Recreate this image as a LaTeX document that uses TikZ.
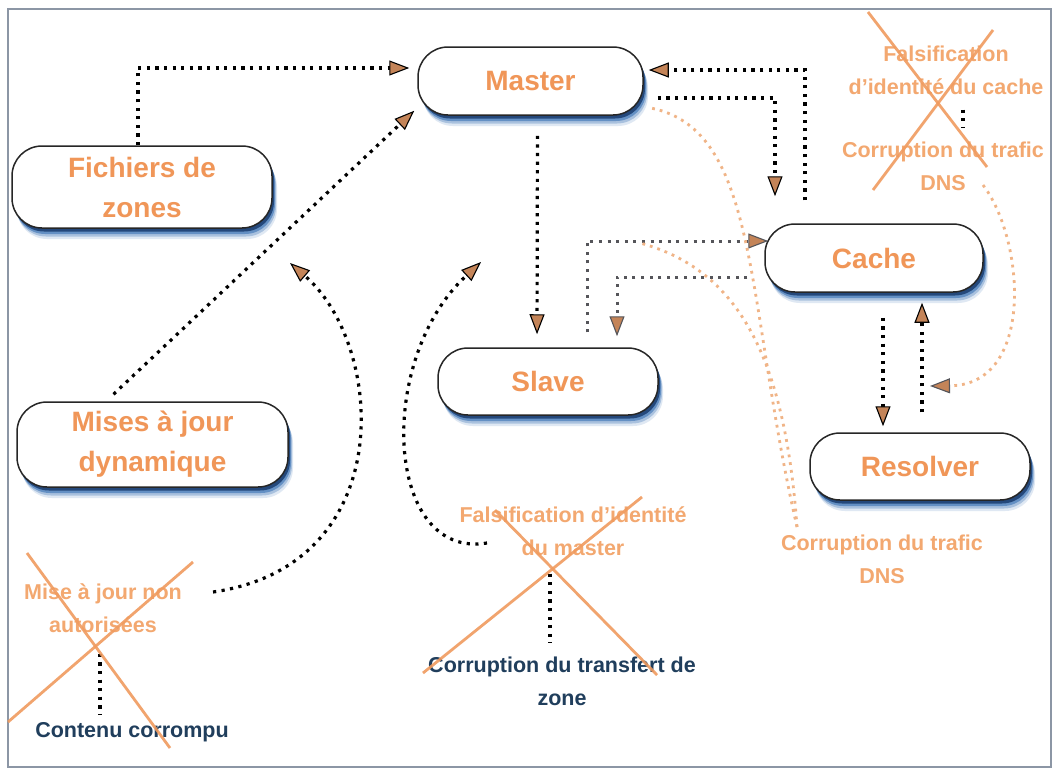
\documentclass[tikz,border=0pt]{standalone}
\usepackage{fontspec}
\setmainfont{Liberation Sans}
\usetikzlibrary{arrows.meta,calc,shadows}

\definecolor{labelorange}{RGB}{240,150,88}
\definecolor{xorange}{RGB}{243,168,112}
\definecolor{crossorange}{RGB}{240,155,95}
\definecolor{darkblue}{RGB}{32,62,92}
\definecolor{tipfill}{RGB}{196,132,88}
\definecolor{odot}{RGB}{240,180,135}
\definecolor{shadowblue}{RGB}{45,105,175}
\definecolor{shadowdark}{RGB}{20,55,105}
\definecolor{framegray}{RGB}{140,150,165}
\definecolor{linkgray}{RGB}{85,85,90}

\tikzset{
  box/.style={draw=black!85, line width=1.5pt, fill=white, rounded corners=30pt,
    inner sep=0pt, align=center, text=labelorange,
    font=\fontsize{28}{40}\selectfont\bfseries,
    drop shadow={shadow xshift=5pt, shadow yshift=-11pt, fill=shadowblue, opacity=0.15},
    drop shadow={shadow xshift=4pt, shadow yshift=-8.5pt, fill=shadowblue, opacity=0.3},
    drop shadow={shadow xshift=3pt, shadow yshift=-6pt, fill=shadowblue, opacity=0.55},
    drop shadow={shadow xshift=2pt, shadow yshift=-3.5pt, fill=shadowdark, opacity=0.8}},
  threat/.style={align=center, inner sep=1pt, text=xorange,
    font=\fontsize{21.5}{33}\selectfont\bfseries},
  effect/.style={threat, text=darkblue},
  dots/.style={line width=3.2pt, dash pattern=on 3.2pt off 5.4pt, draw=black},
  link/.style={dots, -{Triangle[length=20pt,width=15pt,fill=tipfill,line width=1.1pt]}},
  graylink/.style={draw=linkgray, line width=3pt, dash pattern=on 3pt off 5.6pt},
  odots/.style={line width=2.8pt, dash pattern=on 2.8pt off 5pt, draw=odot},
  olink/.style={odots, -{Triangle[length=20pt,width=15pt,color=linkgray,fill=tipfill,line width=1.1pt]}},
  cross/.style={draw=crossorange, line width=2.8pt, opacity=0.9}
}

\begin{document}
\begin{tikzpicture}[x=1pt,y=-1pt]
\clip (0,0) rectangle (1052,769);
\fill[white] (0,0) rectangle (1052,769);
\draw[framegray, line width=2pt] (8,9) rectangle (1051,767);

% components
\node[box, minimum width=225pt, minimum height=68pt] (master) at (530.5,81) {Master};
\node[box, minimum width=260pt, minimum height=82pt] (fich) at (142,187) {Fichiers de\\zones};
\node[box, minimum width=271pt, minimum height=85pt] (mises) at (152.5,444.5) {Mises à jour\\dynamique};
\node[box, minimum width=220pt, minimum height=67pt] (slave) at (548,381.5) {Slave};
\node[box, minimum width=218pt, minimum height=68pt] (cache) at (874,258) {Cache};
\node[box, minimum width=220pt, minimum height=67pt] (resolver) at (920,466.5) {Resolver};

% threats and their effects
\node[threat] (fcache) at (946,70) {Falsification\\d'identité du cache};
\node[threat] (ctraf1) at (943,166) {Corruption du trafic\\DNS};
\node[threat] (mastfals) at (573,531) {Falsification d'identité\\du master};
\node[effect] (ctrans) at (562,681) {Corruption du transfert de\\zone};
\node[threat] (unauth) at (103,608) {Mise à jour non\\autorisées};
\node[effect] (contenu) at (132,732) {Contenu corrompu};
\node[threat] (ctraf2) at (882,559) {Corruption du trafic\\DNS};

% free ends of attack arrows
\coordinate (p1) at (290,263);
\coordinate (p2) at (481,262);
\coordinate (p3) at (640,243);
\coordinate (hit) at (930,386);

% data flows
\draw[link, shorten >=8pt] ([xshift=-4pt]fich.north) |- ([yshift=13pt]master.west);
\draw[link] ([shift={(-39pt,7pt)}]mises.north) -- ([shift={(-3pt,5pt)}]master.south west);
\draw[link, shorten <=20pt, shorten >=13pt] ([xshift=7pt]master.south) -- ([xshift=-11pt]slave.north);
\draw[link, shorten >=27pt] ([shift={(14pt,-17pt)}]master.east) -| ([xshift=-99pt]cache.north);
\draw[link, shorten <=23pt] ([xshift=-69pt]cache.north) |- ([shift={(5pt,11pt)}]master.east);
\draw[link, graylink, shorten <=15pt, shorten >=-4pt] ([xshift=39pt]slave.north) |- ([yshift=17pt]cache.west);
\draw[link, graylink, shorten <=17pt, shorten >=11pt] ([yshift=-19pt]cache.west) -| ([xshift=69pt]slave.north);
\draw[link, shorten <=25pt, shorten >=6pt] ([xshift=9pt]cache.south) -- ([xshift=-37pt]resolver.north);
\draw[link, shorten <=20pt, shorten >=10pt] ([xshift=2pt]resolver.north) -- ([xshift=48pt]cache.south);

% attacks
\draw[link] ([shift={(30pt,16pt)}]unauth.east) .. controls (400,565) and (385,345) .. (p1);
\draw[link] ([shift={(-86pt,-12pt)}]mastfals.center) .. controls (385,560) and (375,360) .. (p2);
\draw[olink] ([shift={(40pt,-19pt)}]ctraf1.center) .. controls (1025,240) and (1035,385) .. (hit);
\draw[odots] ([shift={(-85pt,32pt)}]ctraf2.center) .. controls (745,300) and (760,130) .. ([shift={(7pt,-27pt)}]master.east);
\draw[odots] ([shift={(-85pt,32pt)}]ctraf2.center) .. controls (785,360) and (740,270) .. (p3);

% threat to effect
\draw[dots, shorten <=14pt, shorten >=12pt] ([xshift=17pt]fcache.south) -- ([xshift=20pt]ctraf1.north);
\draw[dots, shorten <=17pt, shorten >=12pt] ([xshift=-23pt]mastfals.south) -- ([xshift=-12pt]ctrans.north);
\draw[dots, shorten <=20pt, shorten >=6pt] ([xshift=-3pt]unauth.south) -- ([xshift=-32pt]contenu.north);

% countered threats
\draw[cross] (868,12) -- (987,167);
\draw[cross] (993,30) -- (873,190);
\draw[cross] (495,510) -- (657,675);
\draw[cross] (642,497) -- (423,673);
\draw[cross] (27,553) -- (170,748);
\draw[cross] (193,562) -- (8,722);
\end{tikzpicture}
\end{document}
